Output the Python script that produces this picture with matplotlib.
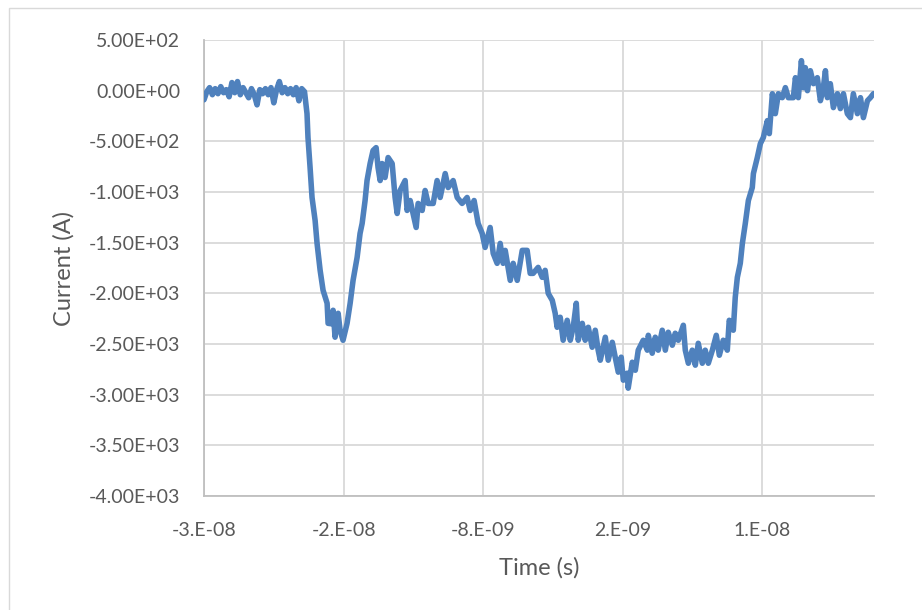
import matplotlib
matplotlib.use("Agg")
import matplotlib.pyplot as plt
from matplotlib.patches import Rectangle
import numpy as np

# ---- data (time in ns, current in A) ----
time_ns = [
    -28.0, -27.8, -27.6, -27.4, -27.2, -27.0, -26.8, -26.6, -26.4, -26.2,
    -26.0, -25.8, -25.6, -25.4, -25.2, -25.0, -24.8, -24.6, -24.4, -24.2,
    -24.0, -23.8, -23.6, -23.4, -23.2, -23.0, -22.8, -22.6, -22.4, -22.2,
    -22.0, -21.8, -21.6, -21.4, -21.2, -21.0, -20.8,
    -20.62, -20.55, -20.40, -20.26, -20.04, -19.90, -19.68, -19.47, -19.18, -19.11,
    -18.90, -18.75, -18.61, -18.39, -18.25, -18.04, -17.75, -17.53, -17.32, -17.03,
    -16.82, -16.67, -16.46, -16.32, -16.10, -15.89, -15.67, -15.53, -15.38, -15.24,
    -15.03, -14.81, -14.52, -14.31, -14.16, -13.95, -13.59, -13.45, -13.23, -13.02,
    -12.80, -12.66, -12.37, -12.16, -11.94, -11.58, -11.30, -11.08, -10.72, -10.51,
    -10.15, -9.86, -9.51, -9.15, -8.93, -8.65, -8.36, -8.07, -7.86, -7.50,
    -7.28, -7.00, -6.78, -6.57, -6.42, -6.06, -5.85, -5.56, -5.20, -4.85,
    -4.63, -4.42, -4.06, -3.77, -3.56, -3.34, -3.05, -2.84, -2.70, -2.48,
    -2.27, -1.98, -1.76, -1.55, -1.33, -1.19, -0.90, -0.69, -0.47, -0.19,
    0.03, 0.24, 0.39, 0.75, 0.96, 1.25, 1.46, 1.68, 1.89, 2.04,
    2.32, 2.39, 2.68, 2.90, 3.11, 3.47, 3.76, 3.83, 4.11, 4.33,
    4.54, 4.83, 5.05, 5.26, 5.55, 5.76, 5.98, 6.34, 6.48, 6.70,
    6.98, 7.20, 7.41, 7.70, 7.91, 8.13, 8.42, 8.70, 8.92, 9.20,
    9.49, 9.63, 9.92, 10.06, 10.21, 10.42, 10.57, 10.78, 11.00, 11.28,
    11.36, 11.64, 11.86, 12.07, 12.36, 12.50, 12.72, 12.93, 13.15, 13.43,
    13.65, 13.86, 14.22, 14.37, 14.58, 14.80, 14.94, 15.08, 15.23, 15.44,
    15.66, 15.94, 16.16, 16.37, 16.52, 16.66, 16.87, 17.09, 17.38, 17.59,
    17.81, 18.09, 18.31, 18.52, 18.81, 19.03, 19.24, 19.53, 19.74, 19.96,
]
current_A = [
    -90, -10, 30, -40, 20, -30, 40, -20, 10, -60,
    80, -20, 90, -40, 30, -20, -70, 20, -40, -140,
    10, -30, 20, -40, 30, -120, 10, 90, -20, 30,
    -30, 20, -40, 30, -100, 20, -10,
    -227, -463, -759, -1054, -1281, -1507, -1773, -1970, -2098, -2296,
    -2300, -2167, -2433, -2197, -2364, -2463, -2296, -2098, -1872, -1645,
    -1409, -1310, -1084, -887, -719, -591, -562, -759, -887, -719,
    -857, -660, -719, -1054, -1212, -985, -887, -1182, -1084, -1212,
    -1350, -1113, -1182, -985, -1113, -1113, -887, -1054, -818, -956,
    -887, -1054, -1113, -1054, -1182, -1084, -1310, -1409, -1547, -1350,
    -1606, -1704, -1507, -1704, -1576, -1872, -1704, -1872, -1576, -1576,
    -1803, -1803, -1744, -1842, -1773, -2000, -2069, -2197, -2335, -2236,
    -2463, -2266, -2463, -2335, -2098, -2463, -2296, -2463, -2335, -2532,
    -2364, -2561, -2660, -2433, -2660, -2483, -2630, -2778, -2630, -2857,
    -2788, -2936, -2680, -2759, -2561, -2463, -2561, -2414, -2591, -2433,
    -2561, -2364, -2561, -2384, -2512, -2394, -2463, -2315, -2561, -2690,
    -2561, -2709, -2493, -2690, -2561, -2690, -2561, -2414, -2611, -2463,
    -2561, -2266, -2364, -2039, -1842, -1704, -1507, -1310, -1084, -956,
    -818, -660, -522, -463, -296, -424, -30, -227, -30, -69,
    30, -69, -69, 128, -69, 296, 30, 227, 0, 197,
    69, 128, -99, 30, 197, -69, 69, -167, -30, -177,
    -30, -227, -266, -30, -227, -69, -266, -99, -69, -30,
]

x_tick_values_ns = [-28, -18, -8, 2, 12]
x_tick_labels = ["-3.E-08", "-2.E-08", "-8.E-09", "2.E-09", "1.E-08"]
y_ticks = [500, 0, -500, -1000, -1500, -2000, -2500, -3000, -3500, -4000]

x_label = "Time (s)"
y_label = "Current (A)"

# ---- figure ----
plt.rcParams['font.family'] = ['Lato', 'DejaVu Sans']
fig = plt.figure(figsize=(9.22, 6.10), dpi=100)

# outer chart border
fig.patches.append(Rectangle((9 / 922, -0.1), 1.2, (610 - 8) / 610 + 0.1,
                             transform=fig.transFigure, fill=False,
                             edgecolor="#d9d9d9", linewidth=1.0))

ax = fig.add_axes([204 / 922, 1 - 496 / 610, 670 / 922, 456 / 610])

t_s = np.array(time_ns) * 1e-9
ax.plot(t_s, current_A, color="#4f81bd", linewidth=4.0, solid_joinstyle="round",
        solid_capstyle="round", zorder=3)

ax.set_xlim(-28e-9, 20e-9)
ax.set_ylim(-4000, 500)

ax.set_xticks(np.array(x_tick_values_ns) * 1e-9)
ax.set_xticklabels(x_tick_labels)
ax.set_yticks(y_ticks)
ax.set_yticklabels([f"{v:.2E}" for v in y_ticks])

ax.grid(True, color="#d9d9d9", linewidth=1.3, zorder=0)
ax.set_axisbelow(True)
for side in ["top", "right"]:
    ax.spines[side].set_visible(False)
for side in ["left", "bottom"]:
    ax.spines[side].set_color("#bfbfbf")
    ax.spines[side].set_linewidth(1.3)

ax.tick_params(axis="both", length=0, labelsize=14, labelcolor="#595959")
ax.tick_params(axis="x", pad=19)
ax.tick_params(axis="y", pad=17)

ax.set_xlabel(x_label, fontsize=17, color="#595959", va="center")
ax.set_ylabel(y_label, fontsize=17, color="#595959", va="center")
ax.xaxis.set_label_coords(0.5, (496 - 568) / 456)
ax.yaxis.set_label_coords((64 - 204) / 670, 0.5)

fig.savefig("out.png", dpi=100)
